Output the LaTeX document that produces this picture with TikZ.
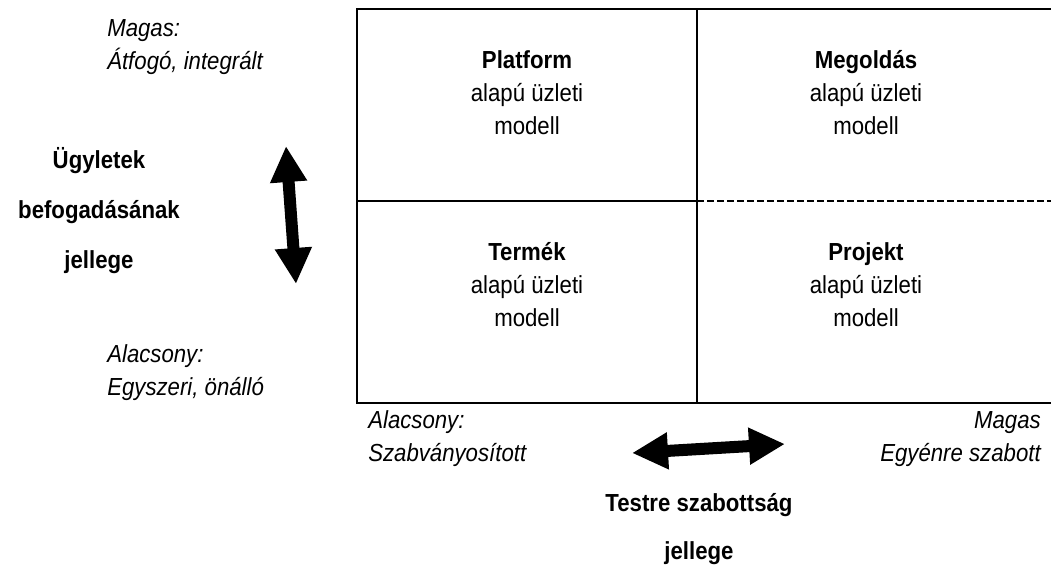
\documentclass[tikz,border=0pt]{standalone}
\usepackage{fontspec}
\setmainfont{Liberation Sans}[FakeStretch=0.9]
\usetikzlibrary{arrows.meta}

\tikzset{
	cell/.style={align=center, anchor=base, inner sep=0pt, font=\fontsize{18.5}{24.5}\selectfont},
	axis/.style={align=center, anchor=base, inner sep=0pt, font=\fontsize{18.5}{37.5}\selectfont\bfseries},
	note/.style={inner sep=0pt, font=\fontsize{18.5}{24.5}\selectfont\itshape},
	frame/.style={black, line width=2pt},
	bigarrow/.style={black, line width=9pt, {Triangle[length=27pt,width=26pt]}-{Triangle[length=27pt,width=26pt]}}
}

\begin{document}
\begin{tikzpicture}[x=0.75pt,y=-0.75pt]
		\useasboundingbox (0,0) rectangle (1051,565);

		% quadrants
		\draw[frame] (1051,9) -- (357,9) -- (357,403) -- (1051,403);
		\draw[frame] (697,9) -- (697,403);
		\draw[frame] (357,201) -- (697,201);
		\draw[black, line width=1.5pt, dash pattern=on 5pt off 2.5pt] (697,201) -- (1051,201);

		% base = last line
		\node[cell] (platform) at (527,134) {\textbf{Platform}\\alapú üzleti\\modell};
		\node[cell] (megoldas) at (866,134) {\textbf{Megoldás}\\alapú üzleti\\modell};
		\node[cell] (termek) at (527,326) {\textbf{Termék}\\alapú üzleti\\modell};
		\node[cell] (projekt) at (866,326) {\textbf{Projekt}\\alapú üzleti\\modell};

		% vertical axis
		\node[note, align=left, anchor=base west] (magasv) at (107,69) {Magas:\\Átfogó, integrált};
		\node[note, align=left, anchor=base west] (alacsonyv) at (107,395) {Alacsony:\\Egyszeri, önálló};
		\node[axis] (ugylet) at (99,268) {Ügyletek\\befogadásának\\jellege};
		\coordinate (vtop) at (286,146);
		\coordinate (vbot) at (296,284);
		\draw[bigarrow] (vtop) -- (vbot);

		% horizontal axis
		\node[note, align=left, anchor=base west] (alacsonyh) at (368,461) {Alacsony:\\Szabványosított};
		\node[note, align=right, anchor=base east] (magash) at (1041,461) {Magas\\Egyénre szabott};
		\node[axis, font=\fontsize{18.5}{36}\selectfont\bfseries] (testre) at (699,559) {Testre szabottság\\jellege};
		\coordinate (hleft) at (632,453);
		\coordinate (hright) at (785,444);
		\draw[bigarrow] (hleft) -- (hright);
	\end{tikzpicture}
\end{document}
